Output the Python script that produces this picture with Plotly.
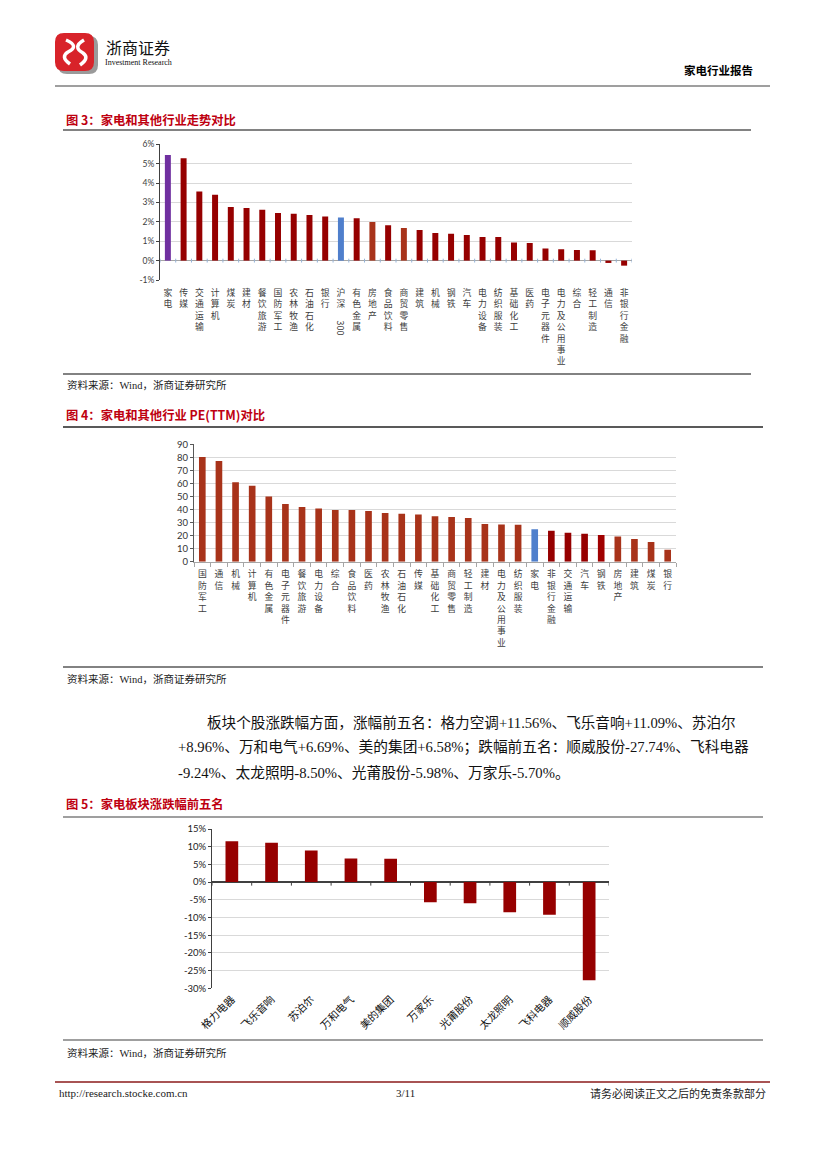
import plotly.graph_objects as go

# ---------------- data ----------------
cats3 = ["家电", "传媒", "交通运输", "计算机", "煤炭", "建材", "餐饮旅游", "国防军工", "农林牧渔",
         "石油石化", "银行", "沪深300", "有色金属", "房地产", "食品饮料", "商贸零售", "建筑", "机械",
         "钢铁", "汽车", "电力设备", "纺织服装", "基础化工", "医药", "电子元器件", "电力及公用事业",
         "综合", "轻工制造", "通信", "非银行金融"]
vals3 = [5.45, 5.28, 3.57, 3.40, 2.76, 2.71, 2.62, 2.45, 2.42, 2.35, 2.28, 2.23, 2.18, 1.99, 1.82,
         1.68, 1.58, 1.42, 1.39, 1.32, 1.22, 1.22, 0.93, 0.91, 0.62, 0.58, 0.55, 0.53, -0.12, -0.26]
ticks3 = [-1, 0, 1, 2, 3, 4, 5, 6]

cats4 = ["国防军工", "通信", "机械", "计算机", "有色金属", "电子元器件", "餐饮旅游", "电力设备", "综合",
         "食品饮料", "医药", "农林牧渔", "石油石化", "传媒", "基础化工", "商贸零售", "轻工制造", "建材",
         "电力及公用事业", "纺织服装", "家电", "非银行金融", "交通运输", "汽车", "钢铁", "房地产", "建筑",
         "煤炭", "银行"]
vals4 = [80.3, 77.2, 60.9, 58.3, 49.9, 44.2, 41.9, 40.7, 39.6, 39.6, 38.9, 37.3, 36.8, 36.1, 34.8,
         34.3, 33.5, 28.9, 28.6, 28.4, 24.8, 23.8, 22.2, 21.5, 20.5, 19.4, 17.4, 15.1, 9.2]
ticks4 = [0, 10, 20, 30, 40, 50, 60, 70, 80, 90]

cats5 = ["格力电器", "飞乐音响", "苏泊尔", "万和电气", "美的集团", "万家乐", "光莆股份", "太龙照明",
         "飞科电器", "顺威股份"]
vals5 = [11.56, 11.09, 8.96, 6.69, 6.58, -5.70, -5.98, -8.50, -9.24, -27.74]
ticks5 = [-30, -25, -20, -15, -10, -5, 0, 5, 10, 15]

body_lines = [
    "板块个股涨跌幅方面，涨幅前五名：格力空调+11.56%、飞乐音响+11.09%、苏泊尔",
    "+8.96%、万和电气+6.69%、美的集团+6.58%；跌幅前五名：顺威股份-27.74%、飞科电器",
    "-9.24%、太龙照明-8.50%、光莆股份-5.98%、万家乐-5.70%。",
]

# ---------------- styles ----------------
W, H = 827, 1169
OFF = 8  # page body margin of the browser
def X(px): return (px - OFF) / W
def Y(py): return 1 - (py - OFF) / H

DARK = "#960000"
BROWN = "#A8331A"
PURPLE = "#7030A0"
BLUE = "#4F7FCC"
TITLE_RED = "#BE0010"
GRID = "#D9D9D9"
SANS = "Noto Sans CJK SC"
SERIF = "Liberation Serif, Noto Sans CJK SC"
NUM = "Lato, Liberation Sans"

col3_special = {"家电": PURPLE, "沪深300": BLUE, "房地产": BROWN, "商贸零售": BROWN}
col4_special = {"家电": BLUE, "非银行金融": DARK, "交通运输": DARK, "汽车": DARK, "钢铁": "#A00000"}
colors3 = [col3_special.get(c, DARK) for c in cats3]
colors4 = [col4_special.get(c, BROWN) for c in cats4]

def stack(name):
    if name == "沪深300":
        return "沪<br>深"
    return "<br>".join(list(name))

fig = go.Figure()
fig.add_trace(go.Bar(x=cats3, y=vals3, marker=dict(color=colors3, line=dict(width=0)),
                     width=0.38, xaxis="x", yaxis="y", hoverinfo="skip"))
fig.add_trace(go.Bar(x=cats4, y=vals4, marker=dict(color=colors4, line=dict(width=0)),
                     width=0.4, xaxis="x2", yaxis="y2", hoverinfo="skip"))
fig.add_trace(go.Bar(x=cats5, y=vals5, marker=dict(color=DARK, line=dict(width=0)),
                     width=0.32, xaxis="x3", yaxis="y3", hoverinfo="skip"))

shapes = []
annotations = []

def hline(y, x0, x1, color, width):
    shapes.append(dict(type="line", xref="paper", yref="paper", x0=X(x0), x1=X(x1),
                       y0=Y(y), y1=Y(y), line=dict(color=color, width=width)))

def text(x, y, s, size, family=SANS, color="#000", xanchor="left", bold=False, angle=0):
    annotations.append(dict(x=X(x), y=Y(y), xref="paper", yref="paper", text=(f"<b>{s}</b>" if bold else s),
                            showarrow=False, xanchor=xanchor, yanchor="middle", textangle=angle,
                            font=dict(size=size, family=family, color=color)))

# ---- header ----
def rrect(x0, y0, x1, y1, r):
    pts = (f"M {X(x0+r)},{Y(y0)} L {X(x1-r)},{Y(y0)} Q {X(x1)},{Y(y0)} {X(x1)},{Y(y0+r)} "
           f"L {X(x1)},{Y(y1-r)} Q {X(x1)},{Y(y1)} {X(x1-r)},{Y(y1)} L {X(x0+r)},{Y(y1)} "
           f"Q {X(x0)},{Y(y1)} {X(x0)},{Y(y1-r)} L {X(x0)},{Y(y0+r)} Q {X(x0)},{Y(y0)} {X(x0+r)},{Y(y0)} Z")
    return pts
shapes.append(dict(type="path", xref="paper", yref="paper", path=rrect(58, 36, 98, 74, 9),
                   fillcolor="#9A9A9A", line=dict(width=0)))
shapes.append(dict(type="path", xref="paper", yref="paper", path=rrect(55, 33, 94, 71, 9),
                   fillcolor="#D8232A", line=dict(width=0)))
swirl = (f"M {X(66)},{Y(40)} Q {X(80)},{Y(46)} {X(68)},{Y(52)} Q {X(60)},{Y(57)} {X(70)},{Y(64)} "
         f"M {X(84)},{Y(40)} Q {X(72)},{Y(47)} {X(83)},{Y(53)} Q {X(90)},{Y(58)} {X(80)},{Y(65)}")
shapes.append(dict(type="path", xref="paper", yref="paper", path=swirl,
                   line=dict(color="white", width=3.5)))
text(104, 47, "浙商证券", 16, family=SANS, color="#111")
text(103, 63, "Investment Research", 8, family="Liberation Sans Narrow, Liberation Serif", color="#111")
text(755, 70, "家电行业报告", 11.5, bold=True, xanchor="right")
hline(86, 55, 770, "#7F7F7F", 1.5)

# ---- figure 3 ----
text(64, 120, "图 3：家电和其他行业走势对比", 12.3, color=TITLE_RED, bold=True)
hline(130, 63, 751, "#595959", 1.5)
hline(374, 63, 751, "#595959", 1.5)
text(65, 385, "资料来源：Wind，浙商证券研究所", 10.5, family=SERIF, color="#222")
annotations.append(dict(x="沪深300", y=Y(319), xref="x", yref="paper", text="300", textangle=90,
                        showarrow=False, font=dict(size=9, family=SANS, color="#404040")))
for i in range(len(cats3) + 1):
    shapes.append(dict(type="line", xref="x", yref="y", x0=i - 0.5, x1=i - 0.5, y0=0.1, y1=-0.1,
                       line=dict(color="#95B3D7", width=1)))

# ---- figure 4 ----
text(64, 415, "图 4：家电和其他行业 PE(TTM)对比", 12.3, color=TITLE_RED, bold=True)
hline(427, 63, 763, "#222222", 1.5)
hline(667, 63, 763, "#595959", 1.5)
text(65, 679, "资料来源：Wind，浙商证券研究所", 10.5, family=SERIF, color="#222")

# ---- body text ----
text(205, 722, body_lines[0], 14.6, family=SERIF, color="#111")
text(176, 747, body_lines[1], 14.7, family=SERIF, color="#111")
text(176, 773, body_lines[2], 14.7, family=SERIF, color="#111")

# ---- figure 5 ----
text(64, 804, "图 5：家电板块涨跌幅前五名", 12.3, color=TITLE_RED, bold=True)
hline(817, 63, 763, "#7F7F7F", 1.5)
hline(1040, 63, 763, "#7F7F7F", 1.5)
text(65, 1053, "资料来源：Wind，浙商证券研究所", 10.5, family=SERIF, color="#222")
for i in range(len(cats5) + 1):
    shapes.append(dict(type="line", xref="x3", yref="y3", x0=i - 0.5, x1=i - 0.5, y0=0, y1=-1.0,
                       line=dict(color="#404040", width=1)))

# ---- footer ----
hline(1082, 55, 770, "#8B1A1A", 1.5)
text(57, 1093, "http://research.stocke.com.cn", 11, family="Liberation Serif", color="#222")
text(405, 1093, "3/11", 11, family="Liberation Serif", color="#222", xanchor="center")
text(768, 1093, "请务必阅读正文之后的免责条款部分", 11, family=SERIF, color="#222", xanchor="right")

lab_font = dict(size=8.8, family=SANS, color="#404040")

fig.update_layout(
    template="none",
    width=W, height=H, margin=dict(l=0, r=0, t=0, b=0, pad=0, autoexpand=False),
    paper_bgcolor="white", plot_bgcolor="white", showlegend=False,
    shapes=shapes, annotations=annotations,
    xaxis=dict(domain=[X(160), X(632)], anchor="y", type="category", automargin=False,
               tickmode="array", tickvals=cats3, ticktext=[stack(c) for c in cats3],
               tickangle=0, showgrid=False, showline=False, ticks="", tickfont=lab_font,
               ticklabelstandoff=6, range=[-0.5, len(cats3) - 0.5]),
    yaxis=dict(domain=[Y(280), Y(144.3)], anchor="x", range=[-1, 6], automargin=False,
               tickmode="array", tickvals=ticks3, ticktext=[f"{v}%" for v in ticks3],
               showgrid=True, gridcolor=GRID, gridwidth=1, zeroline=True, zerolinecolor="#A6A6A6",
               zerolinewidth=1, showline=True, linecolor="#404040", linewidth=1,
               ticks="outside", ticklen=3, tickcolor="#404040", tickfont=dict(size=8.5, family=NUM, color="#404040")),
    xaxis2=dict(domain=[X(194), X(676)], anchor="y2", type="category", automargin=False,
                tickmode="array", tickvals=cats4, ticktext=[stack(c) for c in cats4],
                tickangle=0, showgrid=False, showline=True, linecolor="#A6A6A6", linewidth=1,
                ticks="outside", tickson="boundaries", ticklen=4, tickcolor="#A6A6A6",
                tickfont=lab_font, ticklabelstandoff=4, range=[-0.5, len(cats4) - 0.5]),
    yaxis2=dict(domain=[Y(561.7), Y(444.3)], anchor="x2", range=[0, 90], automargin=False,
                tickmode="array", tickvals=ticks4, ticktext=[str(v) for v in ticks4],
                showgrid=True, gridcolor=GRID, gridwidth=1, zeroline=False,
                showline=True, linecolor="#595959", linewidth=1,
                ticks="outside", ticklen=3, tickcolor="#595959", tickfont=dict(size=9.5, family=NUM, color="#333")),
    xaxis3=dict(domain=[X(212), X(609)], anchor="y3", type="category", automargin=False,
                tickmode="array", tickvals=cats5, ticktext=cats5, tickangle=-45,
                showgrid=False, showline=False, ticks="",
                tickfont=dict(size=10.5, family=SERIF, color="#111"), ticklabelstandoff=2,
                range=[-0.5, len(cats5) - 0.5]),
    yaxis3=dict(domain=[Y(988.3), Y(829)], anchor="x3", range=[-30, 15], automargin=False,
                tickmode="array", tickvals=ticks5, ticktext=[f"{v}%" for v in ticks5],
                showgrid=True, gridcolor=GRID, gridwidth=1, zeroline=True, zerolinecolor="#404040",
                zerolinewidth=1.5, showline=True, linecolor="#404040", linewidth=1,
                ticks="outside", ticklen=3, tickcolor="#404040", tickfont=dict(size=9.5, family=NUM, color="#222")),
)

fig.write_html("out.html")
